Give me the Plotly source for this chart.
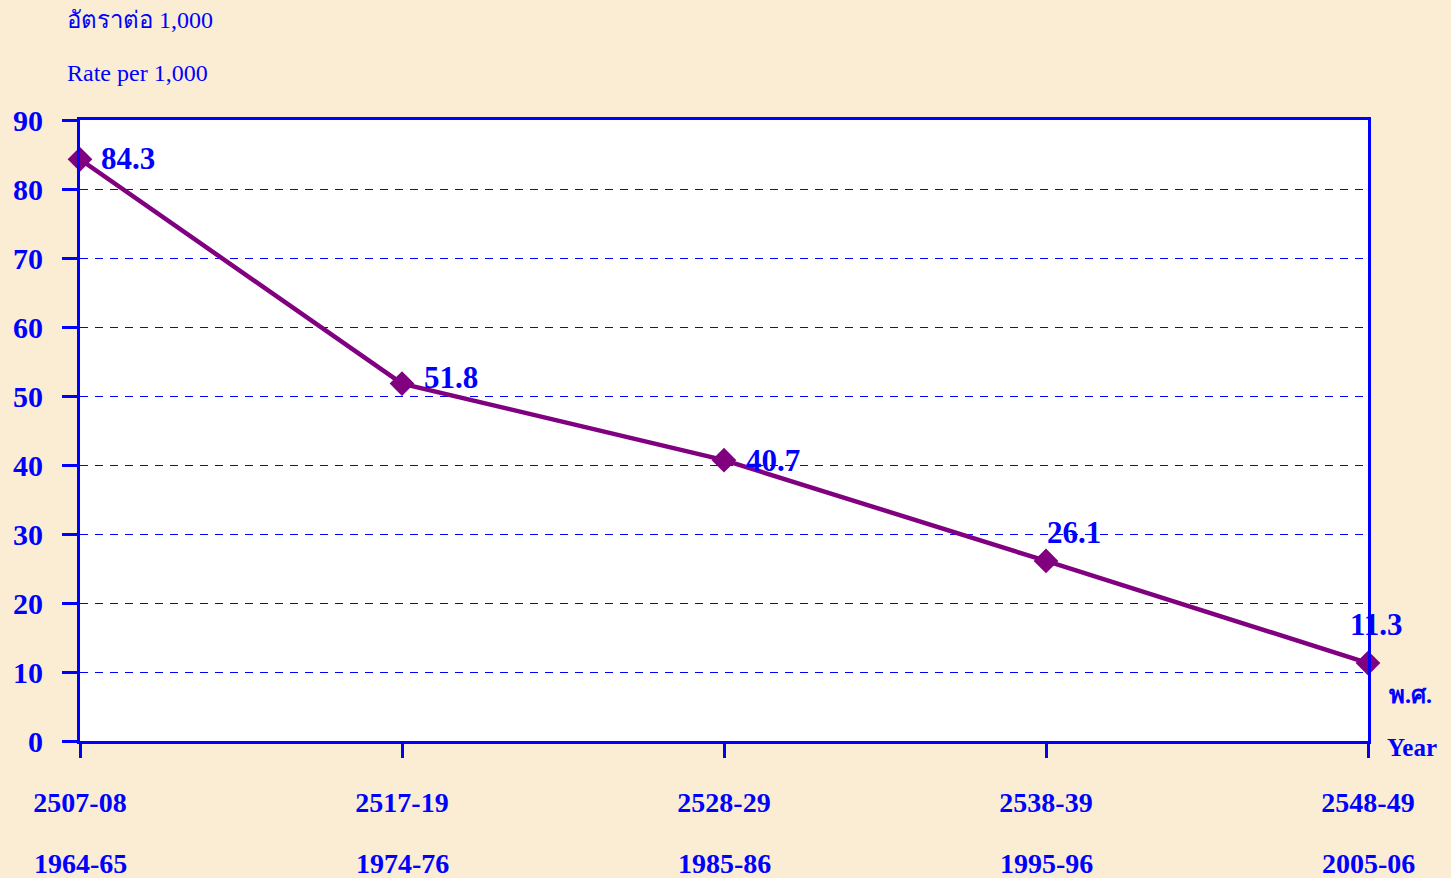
import plotly.graph_objects as go

periods_be = ["2507-08", "2517-19", "2528-29", "2538-39", "2548-49"]
periods_ce = ["1964-65", "1974-76", "1985-86", "1995-96", "2005-06"]
rates = [84.3, 51.8, 40.7, 26.1, 11.3]
y_ticks = [0, 10, 20, 30, 40, 50, 60, 70, 80, 90]

BLUE = "#0000FF"
PURPLE = "#800080"
SERIF = "Liberation Serif, Times New Roman, serif"

xs = list(range(len(rates)))

fig = go.Figure()
fig.add_trace(go.Scatter(
    x=xs, y=rates, mode="lines+markers",
    line=dict(color=PURPLE, width=4.5),
    marker=dict(symbol="diamond", size=19, color=PURPLE),
    cliponaxis=False, showlegend=False, hoverinfo="skip",
))

# data labels
label_shift = [(48, 1), (49, 6), (49, 0), (28, 28), (8, 39)]
for x, v, (dx, dy) in zip(xs, rates, label_shift):
    fig.add_annotation(x=x, y=v, text=f"{v}", showarrow=False,
                       xshift=dx, yshift=dy,
                       font=dict(family=SERIF, size=31, color=BLUE, weight="bold"))

# second line of x tick labels (Gregorian years)
for x, t in zip(xs, periods_ce):
    fig.add_annotation(x=x, xref="x", yref="paper", y=0.0, yshift=-122,
                       text=t, showarrow=False, xanchor="center", yanchor="middle",
                       font=dict(family=SERIF, size=28, color=BLUE, weight="bold"))

fig.update_layout(
    width=1451, height=878,
    margin=dict(l=80, r=83, t=120, b=137),
    paper_bgcolor="#FAEDD3",
    plot_bgcolor="#FFFFFF",
    xaxis=dict(
        range=[0, len(rates) - 1],
        tickvals=xs,
        ticktext=periods_be,
        showgrid=False, zeroline=False,
        showline=True, linecolor=BLUE, linewidth=3, mirror=True,
        ticks="outside", ticklen=14, tickwidth=2.5, tickcolor=BLUE,
        ticklabelstandoff=20,
        tickfont=dict(family=SERIF, size=28, color=BLUE, weight="bold"),
    ),
    yaxis=dict(
        range=[0, 90],
        tickvals=y_ticks,
        showgrid=True, gridcolor=BLUE, gridwidth=1.2, griddash="8px,7px",
        zeroline=False,
        showline=True, linecolor=BLUE, linewidth=3, mirror=True,
        ticks="outside", ticklen=15, tickwidth=2.5, tickcolor=BLUE,
        ticklabelstandoff=13,
        tickfont=dict(family=SERIF, size=30, color=BLUE, weight="bold"),
    ),
)

fig.add_annotation(xref="paper", yref="paper", x=-0.0078, y=1.0, xshift=-5, yshift=100,
                   xanchor="left", yanchor="middle", showarrow=False,
                   text="อัตราต่อ 1,000",
                   font=dict(family=SERIF, size=24, color=BLUE))
fig.add_annotation(xref="paper", yref="paper", x=-0.0078, y=1.0, xshift=-5, yshift=47,
                   xanchor="left", yanchor="middle", showarrow=False,
                   text="Rate per 1,000",
                   font=dict(family=SERIF, size=24, color=BLUE))
fig.add_annotation(xref="paper", yref="paper", x=1.0, y=0.0, xshift=19, yshift=46,
                   xanchor="left", yanchor="middle", showarrow=False,
                   text="พ.ศ.",
                   font=dict(family=SERIF, size=24, color=BLUE, weight="bold"))
fig.add_annotation(xref="paper", yref="paper", x=1.0, y=0.0, xshift=17, yshift=-6,
                   xanchor="left", yanchor="middle", showarrow=False,
                   text="Year",
                   font=dict(family=SERIF, size=25, color=BLUE, weight="bold"))

fig.write_html("out.html", config={"displayModeBar": False},
               post_script="document.body.style.margin='0';document.body.style.overflow='hidden';")
